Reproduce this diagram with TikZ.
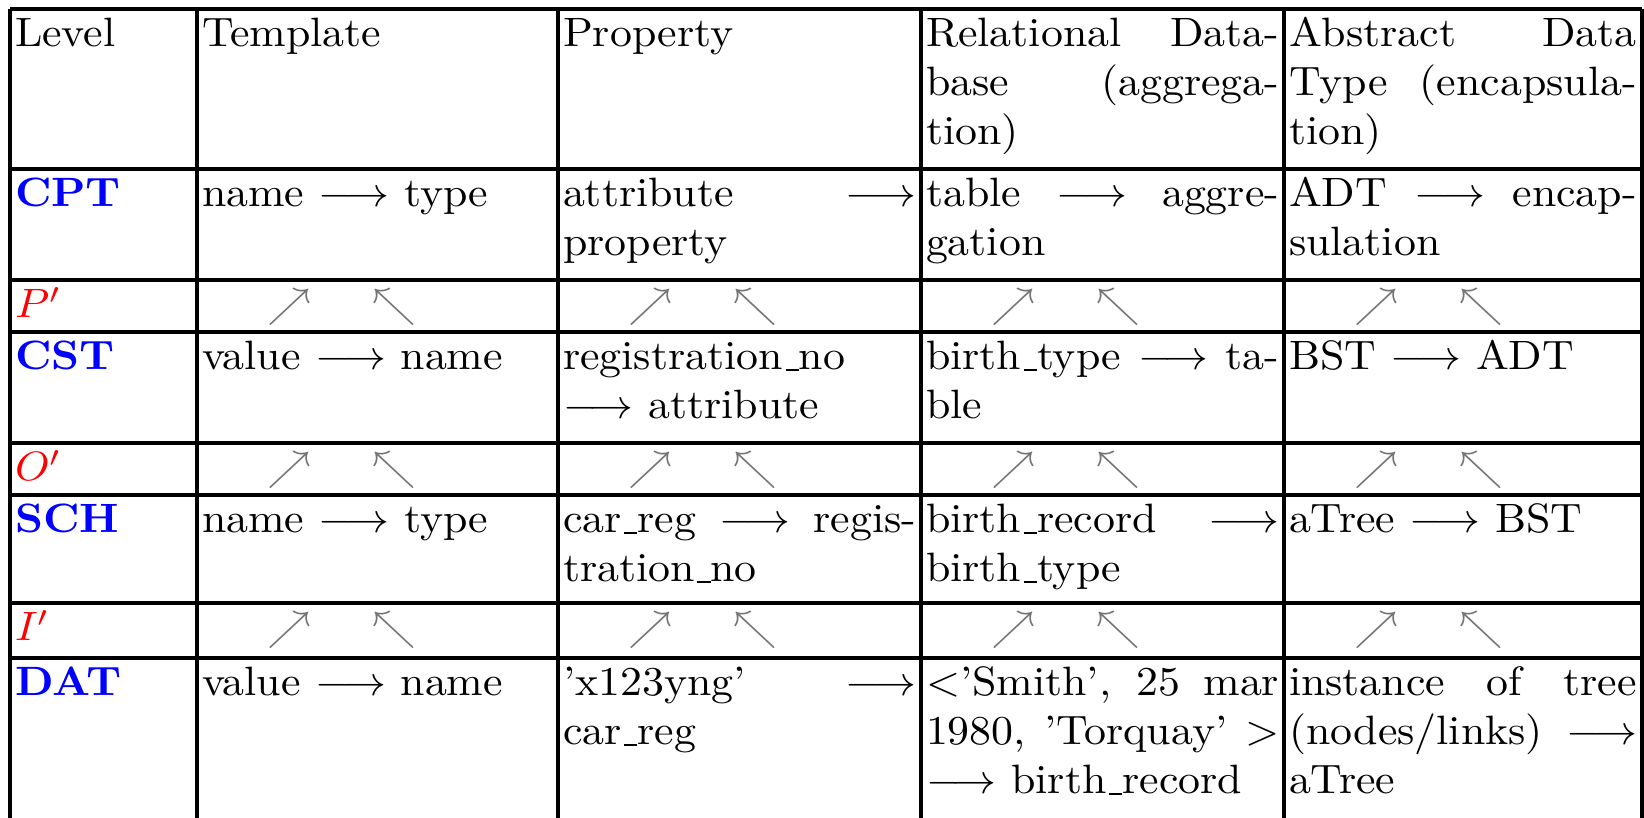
\documentclass[tikz,border=0pt]{standalone}
\usepackage{xcolor}
\newcommand{\jline}[2]{\makebox[#1][s]{#2}}
\newcommand{\us}{\leavevmode\kern.06em\lower0.3pt\vbox{\hrule width .3em height .45pt}}
\begin{document}
\begin{tikzpicture}[x=0.2439pt,y=-0.2439pt,
  rule/.style={line width=0.8pt,black},
  cell/.style={anchor=base west,inner sep=0pt,outer sep=0pt,xscale=1.07,font=\fontsize{10}{12}\selectfont},
  lvl/.style={cell,text=blue,font=\fontsize{10}{12}\selectfont\bfseries},
  prm/.style={cell,text=red},
  arr/.style={cell,text=black!55}]
\useasboundingbox (0,0) rectangle (1644,818);
% rules
\foreach \r in {9,169,280,332,443,495,603,658}{\draw[rule] (10,\r) -- (1642,\r);}
\foreach \c in {10,197,558,921,1284,1642}{\draw[rule] (\c,9) -- (\c,818);}
% header
\node[cell] (h1) at (15,47) {Level};
\node[cell] (h2) at (202,47) {Template};
\node[cell] (h3) at (563,47) {Property};
\node[cell] (h4a) at (926,47) {\jline{80.5pt}{Relational Data-}};
\node[cell] (h4b) at (926,96) {\jline{80.5pt}{base (aggrega-}};
\node[cell] (h4c) at (926,145) {tion)};
\node[cell] (h5a) at (1289,47) {\jline{79.3pt}{Abstract Data}};
\node[cell] (h5b) at (1289,96) {\jline{79.3pt}{Type (encapsula-}};
\node[cell] (h5c) at (1289,145) {tion)};
% CPT
\node[lvl] (l1) at (15,207) {CPT};
\node[cell] (a2) at (202,207) {name $\longrightarrow$ type};
\node[cell] (a3a) at (563,207) {\jline{80.5pt}{attribute $\longrightarrow$}};
\node[cell] (a3b) at (563,256) {property};
\node[cell] (a4a) at (926,207) {\jline{80.5pt}{table $\longrightarrow$ aggre-}};
\node[cell] (a4b) at (926,256) {gation};
\node[cell] (a5a) at (1289,207) {\jline{79.3pt}{ADT $\longrightarrow$ encap-}};
\node[cell] (a5b) at (1289,256) {sulation};
% P'
\node[prm] (p1) at (15,318) {$P'$};
\foreach \c/\n in {197/2,558/3,921/4,1284/5}{
  \node[arr] (pne\n) at (\c+70,318) {$\nearrow$};
  \node[arr] (pnw\n) at (\c+175,318) {$\nwarrow$};}
% CST
\node[lvl] (l2) at (15,370) {CST};
\node[cell] (b2) at (202,370) {value $\longrightarrow$ name};
\node[cell] (b3a) at (563,370) {registration\us no};
\node[cell] (b3b) at (563,419) {$\longrightarrow$ attribute};
\node[cell] (b4a) at (926,370) {\jline{80.5pt}{birth\us type $\longrightarrow$ ta-}};
\node[cell] (b4b) at (926,419) {ble};
\node[cell] (b5) at (1289,370) {BST $\longrightarrow$ ADT};
% O'
\node[prm] (o1) at (15,481) {$O'$};
\foreach \c/\n in {197/2,558/3,921/4,1284/5}{
  \node[arr] (one\n) at (\c+70,481) {$\nearrow$};
  \node[arr] (onw\n) at (\c+175,481) {$\nwarrow$};}
% SCH
\node[lvl] (l3) at (15,533) {SCH};
\node[cell] (c2) at (202,533) {name $\longrightarrow$ type};
\node[cell] (c3a) at (563,533) {\jline{80.5pt}{car\us reg $\longrightarrow$ regis-}};
\node[cell] (c3b) at (563,582) {tration\us no};
\node[cell] (c4a) at (926,533) {\jline{80.5pt}{birth\us record $\longrightarrow$}};
\node[cell] (c4b) at (926,582) {birth\us type};
\node[cell] (c5) at (1289,533) {aTree $\longrightarrow$ BST};
% I'
\node[prm] (i1) at (15,641) {$I'$};
\foreach \c/\n in {197/2,558/3,921/4,1284/5}{
  \node[arr] (ine\n) at (\c+70,641) {$\nearrow$};
  \node[arr] (inw\n) at (\c+175,641) {$\nwarrow$};}
% DAT
\node[lvl] (l4) at (15,696) {DAT};
\node[cell] (d2) at (202,696) {value $\longrightarrow$ name};
\node[cell] (d3a) at (563,696) {\jline{80.5pt}{'x123yng' $\longrightarrow$}};
\node[cell] (d3b) at (563,745) {car\us reg};
\node[cell] (d4a) at (926,696) {\jline{80.5pt}{$<$'Smith', 25 mar}};
\node[cell] (d4b) at (926,745) {\jline{80.5pt}{1980, 'Torquay' $>$}};
\node[cell] (d4c) at (926,794) {$\longrightarrow$ birth\us record};
\node[cell] (d5a) at (1289,696) {\jline{79.3pt}{instance of tree}};
\node[cell] (d5b) at (1289,745) {\jline{79.3pt}{(nodes/links) $\longrightarrow$}};
\node[cell] (d5c) at (1289,794) {aTree};
\end{tikzpicture}
\end{document}
